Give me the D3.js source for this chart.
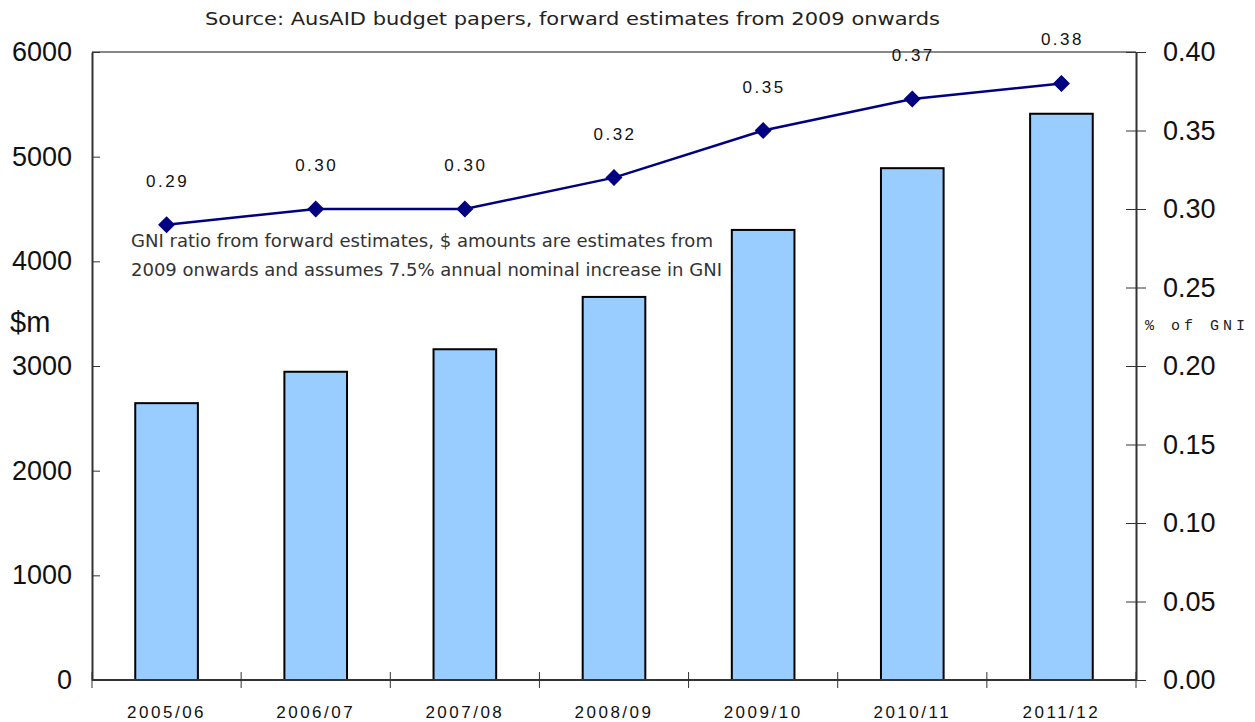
<!DOCTYPE html>
<html>
<head>
<meta charset="utf-8">
<script src="https://cdn.jsdelivr.net/npm/d3@7"></script>
<style>
  body { margin: 0; background: #fff; }
  svg { display: block; }
</style>
</head>
<body>
<script>
// values
var years = ['2005/06', '2006/07', '2007/08', '2008/09', '2009/10', '2010/11', '2011/12'];
var aidMillions = [2645, 2945, 3160, 3660, 4300, 4890, 5410];
var gniRatio = [0.29, 0.30, 0.30, 0.32, 0.35, 0.37, 0.38];
var leftTicks = [0, 1000, 2000, 3000, 4000, 5000, 6000];
var rightTicks = [0, 0.05, 0.10, 0.15, 0.20, 0.25, 0.30, 0.35, 0.40];

var width = 1255, height = 722;
// plot area edges (don't call these top/left - window.top is read only)
var plotL = 92, plotR = 1136, plotT = 52, plotB = 680;

var svg = d3.select('body').append('svg')
  .attr('width', width)
  .attr('height', height);

var x = d3.scaleBand().domain(years).range([plotL, plotR]).paddingInner(0.58).paddingOuter(0.29);
var xStep = (plotR - plotL) / years.length;
var yL = d3.scaleLinear().domain([0, 6000]).range([plotB, plotT]);
var yR = d3.scaleLinear().domain([0, 0.40]).range([plotB, plotT]);

// top frame line
svg.append('line')
  .attr('x1', plotL).attr('x2', plotR)
  .attr('y1', plotT).attr('y2', plotT)
  .attr('stroke', '#888').attr('stroke-width', 2);

// bars
svg.selectAll('rect.bar')
  .data(aidMillions)
  .enter().append('rect')
  .attr('class', 'bar')
  .attr('x', function(d, i) { return x(years[i]); })
  .attr('width', x.bandwidth())
  .attr('y', function(d) { return yL(d); })
  .attr('height', function(d) { return plotB - yL(d); })
  .attr('fill', '#99CCFF')
  .attr('stroke', '#000')
  .attr('stroke-width', 2);

// left axis
var axL = svg.append('g').attr('transform', 'translate(' + plotL + ',0)')
  .call(d3.axisLeft(yL).tickValues(leftTicks).tickSize(8).tickSizeOuter(0).tickFormat(d3.format('d')));
axL.select('.domain').attr('stroke', '#333').attr('stroke-width', 2);
axL.selectAll('.tick line').attr('x2', 8).attr('stroke', '#333');
axL.selectAll('.tick text')
  .attr('x', -20)
  .style('font-family', 'Liberation Sans, Arial, sans-serif')
  .style('font-size', '27px')
  .attr('fill', '#111');

// right axis
var axR = svg.append('g').attr('transform', 'translate(' + plotR + ',0)')
  .call(d3.axisRight(yR).tickValues(rightTicks).tickSize(10).tickSizeOuter(0).tickFormat(d3.format('.2f')));
axR.select('.domain').attr('stroke', '#333').attr('stroke-width', 2);
axR.selectAll('.tick line').attr('x1', -10).attr('stroke', '#333');
axR.selectAll('.tick text')
  .attr('x', 27)
  .style('font-family', 'Liberation Sans, Arial, sans-serif')
  .style('font-size', '27px')
  .attr('fill', '#111');

// bottom axis, ticks at category boundaries
svg.append('line')
  .attr('x1', plotL).attr('x2', plotR)
  .attr('y1', plotB).attr('y2', plotB)
  .attr('stroke', '#333').attr('stroke-width', 2);
svg.selectAll('line.xtick')
  .data(d3.range(years.length + 1))
  .enter().append('line')
  .attr('class', 'xtick')
  .attr('x1', function(i) { return plotL + i * xStep; })
  .attr('x2', function(i) { return plotL + i * xStep; })
  .attr('y1', plotB - 8).attr('y2', plotB + 8)
  .attr('stroke', '#333');
svg.selectAll('text.xlab')
  .data(years)
  .enter().append('text')
  .attr('class', 'xlab')
  .attr('x', function(d) { return x(d) + x.bandwidth() / 2; })
  .attr('y', 718)
  .attr('text-anchor', 'middle')
  .style('font-family', 'Liberation Sans, Arial, sans-serif')
  .style('font-size', '17px')
  .style('letter-spacing', '2.5px')
  .attr('fill', '#111')
  .text(function(d) { return d; });

// GNI line
var cx = function(d, i) { return x(years[i]) + x.bandwidth() / 2; };
var line = d3.line().x(cx).y(function(d) { return yR(d); });
svg.append('path')
  .datum(gniRatio)
  .attr('d', line)
  .attr('fill', 'none')
  .attr('stroke', '#000080')
  .attr('stroke-width', 2.5);

svg.selectAll('path.marker')
  .data(gniRatio)
  .enter().append('path')
  .attr('class', 'marker')
  .attr('transform', function(d, i) { return 'translate(' + cx(d, i) + ',' + yR(d) + ') rotate(45)'; })
  .attr('d', 'M-5.5,-5.5H5.5V5.5H-5.5Z')
  .attr('fill', '#000080')
  .attr('stroke', '#000080');

svg.selectAll('text.val')
  .data(gniRatio)
  .enter().append('text')
  .attr('class', 'val')
  .attr('x', function(d, i) { return cx(d, i) + 1; })
  .attr('y', function(d) { return yR(d) - 38; })
  .attr('text-anchor', 'middle')
  .style('font-family', 'Liberation Sans, Arial, sans-serif')
  .style('font-size', '17px')
  .style('letter-spacing', '2.5px')
  .attr('fill', '#111')
  .text(function(d) { return d.toFixed(2); });

// titles and notes
svg.append('text')
  .attr('x', 205).attr('y', 25)
  .attr('textLength', 735).attr('lengthAdjust', 'spacingAndGlyphs')
  .style('font-family', 'DejaVu Sans Condensed, DejaVu Sans, sans-serif')
  .style('font-size', '18px')
  .attr('fill', '#222')
  .text('Source: AusAID budget papers, forward estimates from 2009 onwards');

svg.append('text')
  .attr('x', 10).attr('y', 332)
  .style('font-family', 'Liberation Sans, Arial, sans-serif')
  .style('font-size', '29px')
  .attr('fill', '#111')
  .text('$m');

svg.append('text')
  .attr('x', 1145).attr('y', 330)
  .attr('textLength', 100).attr('lengthAdjust', 'spacing')
  .style('font-family', 'Liberation Mono, monospace')
  .style('font-size', '15px')
  .attr('fill', '#222')
  .text('% of GNI');

svg.append('text')
  .attr('x', 131).attr('y', 247)
  .attr('textLength', 582).attr('lengthAdjust', 'spacingAndGlyphs')
  .style('font-family', 'DejaVu Sans Condensed, DejaVu Sans, sans-serif')
  .style('font-size', '17px')
  .attr('fill', '#333')
  .text('GNI ratio from forward estimates, $ amounts are estimates from');

svg.append('text')
  .attr('x', 131).attr('y', 276)
  .attr('textLength', 591).attr('lengthAdjust', 'spacingAndGlyphs')
  .style('font-family', 'DejaVu Sans Condensed, DejaVu Sans, sans-serif')
  .style('font-size', '17px')
  .attr('fill', '#333')
  .text('2009 onwards and assumes 7.5% annual nominal increase in GNI');
</script>
</body>
</html>
